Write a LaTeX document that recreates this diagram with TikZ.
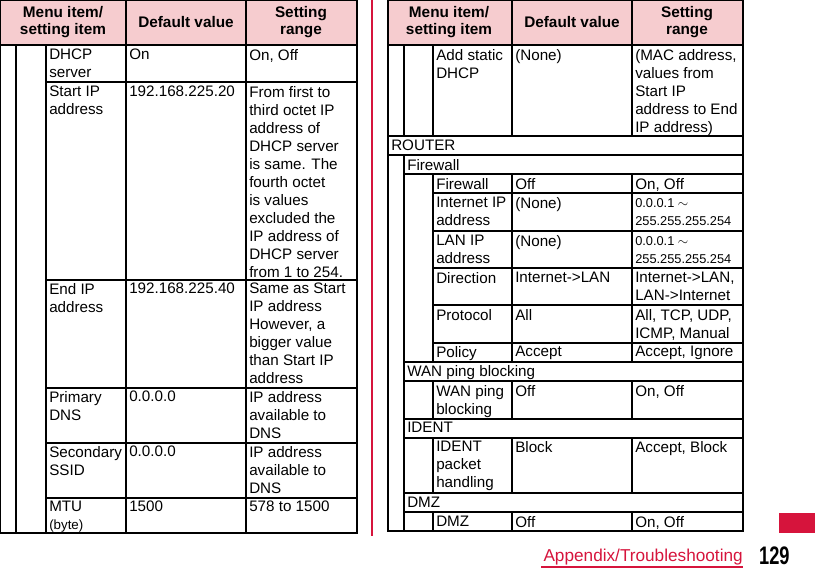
\documentclass[tikz,border=0pt]{standalone}
\usepackage{fontspec}
\setmainfont{Liberation Sans}
\definecolor{hdr}{RGB}{246,204,207}
\definecolor{pagered}{RGB}{214,20,60}
\tikzset{
  cell/.style={anchor=north west,inner sep=0pt,align=left,font=\fontsize{11.4}{13.5}\selectfont},
  small/.style={cell,font=\fontsize{9.6}{13.5}\selectfont},
  head/.style={inner sep=0pt,align=center,font=\fontsize{11.5}{13}\selectfont\bfseries},
  grid/.style={line width=0.9pt,black},
}
\begin{document}
\begin{tikzpicture}[x=0.75pt,y=-0.75pt]
\useasboundingbox (0,0) rectangle (815,569);
% ---------- left table ----------
\fill[hdr] (0,0) rectangle (357,45);
\draw[grid] (0,0) rectangle (357,533);
\draw[grid] (0,45) -- (357,45);
\foreach \x in {126,246} \draw[grid] (\x,0) -- (\x,533);
\foreach \x in {16,46} \draw[grid] (\x,45) -- (\x,533);
\foreach \y in {82,280,388,443,498} \draw[grid] (46,\y) -- (357,\y);
\node[head] (lh1) at (63,22) {Menu item/\\setting item};
\node[head] (lh2) at (186,22) {Default value};
\node[head] (lh3) at (301,22) {Setting\\range};
\node[cell] (l1a) at (49,49) {DHCP\\server};
\node[cell] (l1b) at (129,49) {On};
\node[cell] (l1c) at (249,49) {On, Off};
\node[cell] (l2a) at (49,86) {Start IP\\address};
\node[cell] (l2b) at (129,86) {192.168.225.20};
\node[cell] (l2c) at (249,86) {From first to\\third octet IP\\address of\\DHCP server\\is same. The\\fourth octet\\is values\\excluded the\\IP address of\\DHCP server\\from 1 to 254.};
\node[cell] (l3a) at (49,283) {End IP\\address};
\node[cell] (l3b) at (129,283) {192.168.225.40};
\node[cell] (l3c) at (249,283) {Same as Start\\IP address\\However, a\\bigger value\\than Start IP\\address};
\node[cell] (l4a) at (49,391) {Primary\\DNS};
\node[cell] (l4b) at (129,391) {0.0.0.0};
\node[cell] (l4c) at (249,391) {IP address\\available to\\DNS};
\node[cell] (l5a) at (49,446) {Secondary\\SSID};
\node[cell] (l5b) at (129,446) {0.0.0.0};
\node[cell] (l5c) at (249,446) {IP address\\available to\\DNS};
\node[cell] (l6a) at (49,501) {MTU\\{\fontsize{10}{10}\selectfont(byte)}};
\node[cell] (l6b) at (129,501) {1500};
\node[cell] (l6c) at (249,501) {578 to 1500};
% separator
\draw[pagered,line width=0.8pt] (372,0) -- (372,536);
% ---------- right table ----------
\fill[hdr] (388,0) rectangle (743,45);
\draw[grid] (388,0) rectangle (743,531);
\draw[grid] (388,45) -- (743,45);
\foreach \x in {512,632} \draw[grid] (\x,0) -- (\x,136);
\foreach \x in {404,433} \draw[grid] (\x,45) -- (\x,136);
\draw[grid] (388,136) -- (743,136);
\draw[grid] (388,155) -- (743,155);
\draw[grid] (404,155) -- (404,531);
\foreach \y in {174,362,381,419,438,493,512} \draw[grid] (404,\y) -- (743,\y);
\foreach \a/\b in {174/362,381/419,438/493,512/531}
  \foreach \x in {433,512,632} \draw[grid] (\x,\a) -- (\x,\b);
\foreach \y in {193,231,268,305,343} \draw[grid] (433,\y) -- (743,\y);
\node[head] (rh1) at (449,22) {Menu item/\\setting item};
\node[head] (rh2) at (572,22) {Default value};
\node[head] (rh3) at (687,22) {Setting\\range};
\node[cell] (r1a) at (436,49) {Add static\\DHCP};
\node[cell] (r1b) at (515,49) {(None)};
\node[cell] (r1c) at (635,49) {(MAC address,\\values from\\Start IP\\address to End\\IP address)};
\node[cell] (rrt) at (391,140) {ROUTER};
\node[cell] (rfw) at (407,159) {Firewall};
\node[cell] (r2a) at (436,178) {Firewall};
\node[cell] (r2b) at (515,178) {Off};
\node[cell] (r2c) at (635,178) {On, Off};
\node[cell] (r3a) at (436,197) {Internet IP\\address};
\node[cell] (r3b) at (515,197) {(None)};
\node[small] (r3c) at (635,198) {0.0.0.1 $\sim$\\255.255.255.254};
\node[cell] (r4a) at (436,235) {LAN IP\\address};
\node[cell] (r4b) at (515,235) {(None)};
\node[small] (r4c) at (635,236) {0.0.0.1 $\sim$\\255.255.255.254};
\node[cell] (r5a) at (436,272) {Direction};
\node[cell] (r5b) at (515,272) {Internet->LAN};
\node[cell] (r5c) at (635,272) {Internet->LAN,\\LAN->Internet};
\node[cell] (r6a) at (436,309) {Protocol};
\node[cell] (r6b) at (515,309) {All};
\node[cell] (r6c) at (635,309) {All, TCP, UDP,\\ICMP, Manual};
\node[cell] (r7a) at (436,346) {Policy};
\node[cell] (r7b) at (515,346) {Accept};
\node[cell] (r7c) at (635,346) {Accept, Ignore};
\node[cell] (rwan) at (407,365) {WAN ping blocking};
\node[cell] (r8a) at (436,385) {WAN ping\\blocking};
\node[cell] (r8b) at (515,385) {Off};
\node[cell] (r8c) at (635,385) {On, Off};
\node[cell] (rid) at (407,422) {IDENT};
\node[cell] (r9a) at (436,441) {IDENT\\packet\\handling};
\node[cell] (r9b) at (515,441) {Block};
\node[cell] (r9c) at (635,441) {Accept, Block};
\node[cell] (rdmz) at (407,497) {DMZ};
\node[cell] (r10a) at (436,516) {DMZ};
\node[cell] (r10b) at (515,516) {Off};
\node[cell] (r10c) at (635,516) {On, Off};
% ---------- footer ----------
\fill[pagered] (779,513) rectangle (815,533);
\node[anchor=base east,inner sep=0pt,text=pagered,font=\fontsize{12.9}{13}\selectfont] (ft) at (743,561) {Appendix/Troubleshooting};
\draw[pagered,line width=1.5pt] (541,567) -- (743,567);
\node[anchor=base west,inner sep=0pt,xscale=0.72,font=\fontsize{19}{21}\selectfont\bfseries] (pg) at (759,564) {129};
\end{tikzpicture}
\end{document}
